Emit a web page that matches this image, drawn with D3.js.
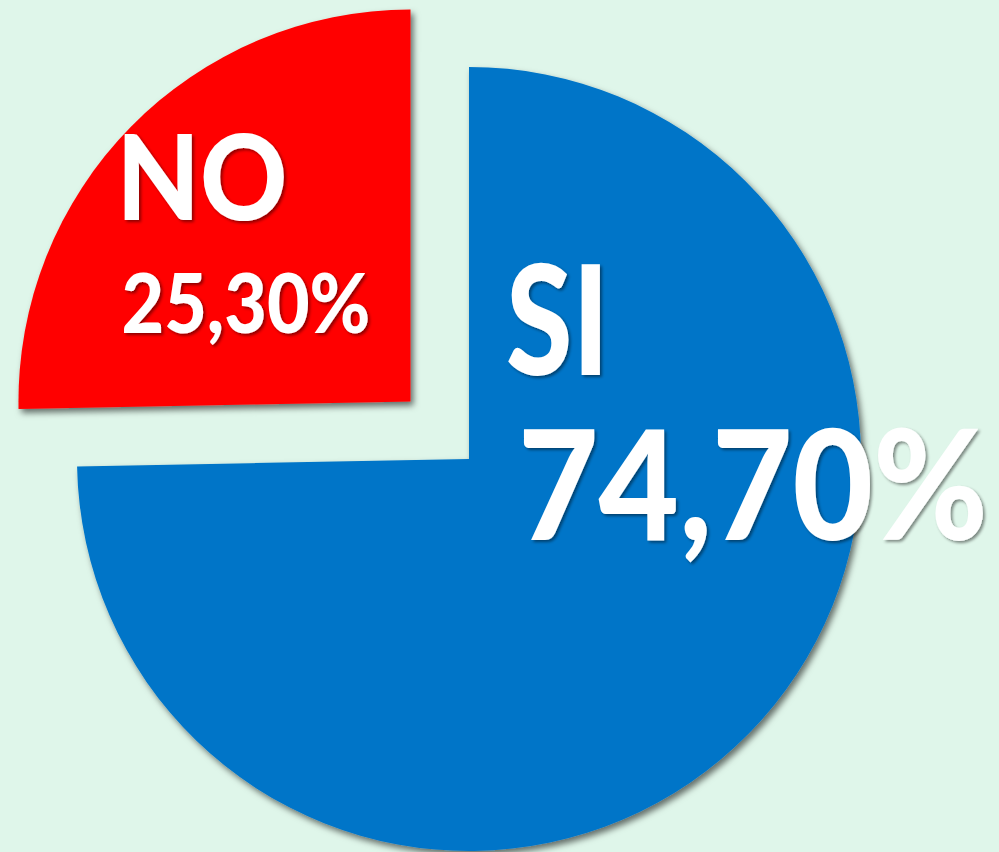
<!DOCTYPE html>
<html>
<head>
<meta charset="utf-8">
<script src="https://cdn.jsdelivr.net/npm/d3@7/dist/d3.min.js"></script>
<style>
  html, body { margin: 0; padding: 0; background: #dff6ea; }
  svg { display: block; }
  text { font-family: Lato, "Open Sans", sans-serif; font-weight: 900; fill: #fff; }
</style>
</head>
<body>
<div id="chart"></div>
<script>
'use strict';

const categories = ['SI', 'NO'];
const values = [74.7, 25.3];
const pctLabels = ['74,70%', '25,30%'];
const colors = ['#0475c8', '#ff0000'];

const width = 999;
const height = 852;
const cx = 469;
const cy = 459;
const radius = 392;
const explode = [0, 82];

const svg = d3.select('#chart').append('svg')
    .attr('width', width)
    .attr('height', height);

const defs = svg.append('defs');
defs.append('filter')
    .attr('id', 'sliceShadow')
    .attr('x', '-10%').attr('y', '-10%')
    .attr('width', '120%').attr('height', '120%')
    .append('feDropShadow')
    .attr('dx', 3).attr('dy', 4)
    .attr('stdDeviation', 3)
    .attr('flood-color', '#000')
    .attr('flood-opacity', 0.55);
defs.append('filter')
    .attr('id', 'textShadow')
    .attr('x', '-5%').attr('y', '-10%')
    .attr('width', '110%').attr('height', '130%')
    .append('feDropShadow')
    .attr('dx', 2).attr('dy', 2)
    .attr('stdDeviation', 1.5)
    .attr('flood-color', '#000')
    .attr('flood-opacity', 0.45);

const pie = d3.pie().sort(null).value(d => d);
const arcs = pie(values);
const arc = d3.arc().innerRadius(0).outerRadius(radius);

// offset of each slice along its mid angle
function shift(d, i) {
    const a = (d.startAngle + d.endAngle) / 2;
    return [cx + explode[i] * Math.sin(a), cy - explode[i] * Math.cos(a)];
}

const slices = svg.append('g')
    .selectAll('g')
    .data(arcs)
    .enter()
    .append('g')
    .attr('transform', (d, i) => 'translate(' + shift(d, i) + ')');

slices.append('path')
    .attr('d', arc)
    .attr('fill', (d, i) => colors[i])
    .attr('filter', 'url(#sliceShadow)');

// label layout: [x, baseline, fontSize, textLength] relative to slice center
const nameLayout = [[37, -84, 153, 103], [-294, -182, 118, 171]];
const pctLayout = [[49, 81, 153, 470], [-289, -69, 81, 249]];

slices.append('text')
    .attr('x', (d, i) => nameLayout[i][0])
    .attr('y', (d, i) => nameLayout[i][1])
    .attr('font-size', (d, i) => nameLayout[i][2])
    .attr('textLength', (d, i) => nameLayout[i][3])
    .attr('lengthAdjust', 'spacingAndGlyphs')
    .attr('filter', 'url(#textShadow)')
    .text((d, i) => categories[i]);

slices.append('text')
    .attr('x', (d, i) => pctLayout[i][0])
    .attr('y', (d, i) => pctLayout[i][1])
    .attr('font-size', (d, i) => pctLayout[i][2])
    .attr('textLength', (d, i) => pctLayout[i][3])
    .attr('lengthAdjust', 'spacingAndGlyphs')
    .attr('filter', 'url(#textShadow)')
    .text((d, i) => pctLabels[i]);
</script>
</body>
</html>
